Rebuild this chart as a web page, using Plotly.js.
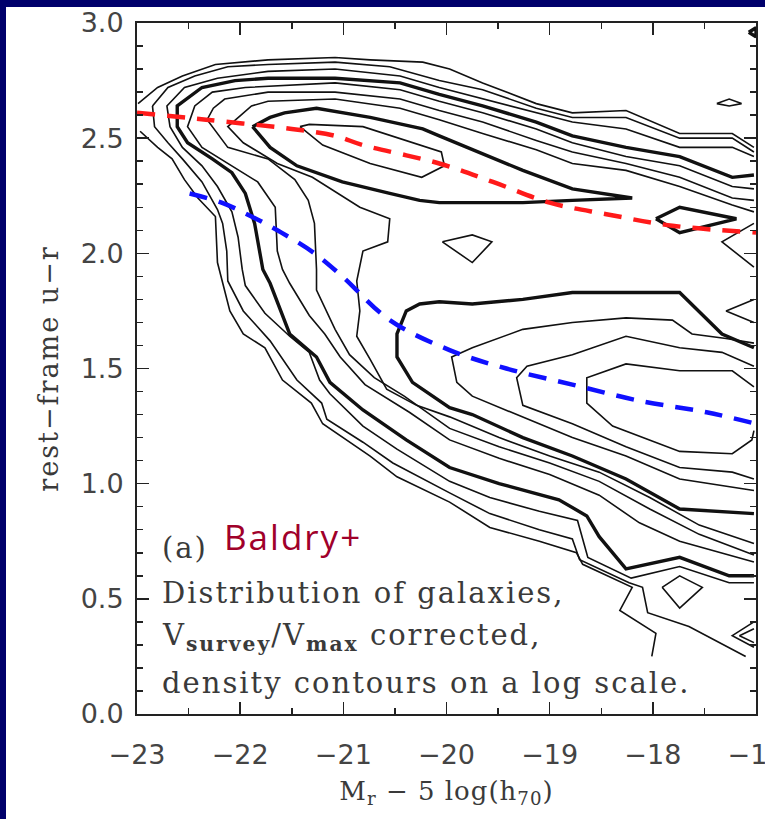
<!DOCTYPE html>
<html>
<head>
<meta charset="utf-8">
<script src="https://cdn.plot.ly/plotly-3.0.1.min.js"></script>
<style>
  html, body { margin: 0; padding: 0; background: #00006b; width: 765px; height: 819px; overflow: hidden; }
  #chart { position: absolute; left: 6px; top: 7px; width: 759px; height: 812px; background: #fff; }
  .annotation-text, .ytitle { letter-spacing: 2px; }
  .xtitle { letter-spacing: 1px; }
</style>
</head>
<body>
<div id="chart"></div>
<script>
// ---- contour levels (outer L1 -> inner): x = M_r - 5log h, y = u-r ----
const L1top_x = [-22.99,-22.80,-22.56,-22.24,-21.73,-21.08,-20.74,-20.23,-19.97,-19.65,-19.13,-18.78,-18.26,-17.74,-17.23,-17.02];
const L1top_y = [2.65,2.72,2.77,2.82,2.84,2.85,2.84,2.83,2.80,2.74,2.65,2.61,2.62,2.52,2.52,2.46];
const L1low_x = [-22.97,-22.80,-22.66,-22.54,-22.41,-22.24,-22.22,-22.10,-21.97,-21.76,-21.59,-21.31,-21.20,-20.74,-20.48,-19.97,-19.58,-19.10,-18.74,-18.68,-18.20,-18.32,-17.97,-18.01];
const L1low_y = [2.53,2.46,2.41,2.32,2.24,2.16,1.96,1.75,1.65,1.59,1.45,1.35,1.26,1.12,1.03,0.92,0.81,0.75,0.70,0.65,0.55,0.45,0.35,0.25];

const L2top_x = [-22.85,-22.70,-22.44,-22.12,-21.73,-21.08,-20.55,-20.07,-19.65,-19.13,-18.78,-18.26,-17.74,-17.23,-17.02];
const L2top_y = [2.64,2.72,2.77,2.81,2.82,2.83,2.81,2.75,2.71,2.63,2.59,2.59,2.50,2.50,2.44];
const L2low_x = [-22.85,-22.83,-22.70,-22.56,-22.37,-22.22,-22.17,-22.13,-22.12,-21.97,-21.71,-21.59,-21.45,-21.21,-21.16,-20.81,-20.52,-19.97,-19.58,-19.10,-18.78,-18.71,-18.23,-18.10,-18.05,-17.65,-17.10];
const L2low_y = [2.64,2.55,2.48,2.41,2.31,2.19,2.13,2.01,1.88,1.75,1.62,1.54,1.45,1.35,1.28,1.18,1.09,0.96,0.87,0.80,0.76,0.67,0.57,0.55,0.44,0.38,0.25];

const L3_x = [-17.02,-17.23,-17.74,-18.26,-18.78,-19.13,-19.65,-20.07,-20.45,-21.08,-21.73,-22.22,-22.54,-22.71,-22.68,-22.56,-22.37,-22.22,-22.08,-22.02,-21.98,-21.95,-21.76,-21.52,-21.33,-21.23,-21.13,-20.81,-20.48,-19.97,-19.58,-19.10,-18.73,-18.63,-18.21,-17.74,-17.26,-17.02];
const L3_y = [2.42,2.46,2.46,2.54,2.57,2.61,2.67,2.72,2.77,2.80,2.79,2.76,2.72,2.64,2.55,2.46,2.38,2.29,2.18,2.07,1.93,1.86,1.74,1.64,1.57,1.45,1.39,1.25,1.15,1.01,0.94,0.88,0.84,0.68,0.59,0.64,0.57,0.57];

const L4_x = [-17.02,-17.23,-17.74,-18.26,-18.78,-19.13,-19.65,-20.07,-20.45,-21.08,-21.73,-22.05,-22.37,-22.61,-22.61,-22.51,-22.27,-22.08,-21.95,-21.86,-21.78,-21.71,-21.52,-21.26,-21.13,-20.81,-20.39,-19.97,-19.49,-18.91,-18.64,-18.52,-18.26,-17.74,-17.26,-17.02];
const L4_y = [2.34,2.33,2.42,2.46,2.51,2.57,2.64,2.69,2.74,2.76,2.76,2.75,2.72,2.64,2.55,2.48,2.41,2.35,2.26,2.13,1.93,1.87,1.65,1.55,1.44,1.32,1.19,1.07,1.00,0.93,0.86,0.77,0.63,0.68,0.60,0.60];

const L5_x = [-17.02,-17.23,-17.74,-18.26,-18.78,-19.13,-19.65,-20.07,-20.45,-21.08,-21.95,-22.27,-22.44,-22.51,-22.37,-22.12,-21.83,-21.66,-21.64,-21.59,-21.52,-21.33,-21.18,-21.03,-20.79,-20.36,-19.97,-19.49,-19.00,-18.52,-18.13,-17.74,-17.26,-17.02];
const L5_y = [2.28,2.29,2.38,2.42,2.48,2.54,2.61,2.66,2.71,2.74,2.72,2.70,2.64,2.55,2.46,2.39,2.31,2.20,2.01,1.93,1.87,1.73,1.65,1.55,1.43,1.31,1.19,1.11,1.04,0.95,0.83,0.75,0.69,0.66];

const L6_x = [-17.02,-17.23,-17.74,-18.26,-18.78,-19.13,-19.65,-20.07,-20.45,-21.08,-21.73,-22.15,-22.26,-22.32,-22.12,-21.73,-21.47,-21.34,-21.28,-21.26,-21.26,-21.08,-20.94,-20.70,-20.41,-19.97,-19.49,-19.00,-18.52,-18.03,-17.55,-17.02];
const L6_y = [2.23,2.24,2.33,2.39,2.44,2.49,2.57,2.62,2.67,2.70,2.70,2.67,2.63,2.58,2.46,2.41,2.32,2.23,2.13,1.93,1.84,1.67,1.56,1.46,1.38,1.24,1.16,1.09,1.01,0.89,0.78,0.69];

const L7_x = [-17.02,-17.23,-17.74,-18.26,-18.78,-19.13,-19.65,-20.07,-20.45,-21.08,-21.73,-21.89,-22.12,-21.97,-21.64,-21.30,-20.84,-20.55,-20.57,-20.81,-20.87,-20.84,-20.87,-20.74,-20.58,-20.29,-19.97,-19.49,-19.00,-18.52,-18.03,-17.55,-17.02];
const L7_y = [2.18,2.21,2.29,2.36,2.39,2.45,2.52,2.58,2.63,2.67,2.66,2.64,2.55,2.48,2.39,2.33,2.20,2.15,2.05,2.01,1.88,1.75,1.64,1.54,1.41,1.34,1.29,1.20,1.12,1.05,0.94,0.82,0.74];

const L8red_x = [-21.88,-21.71,-21.57,-21.26,-20.74,-20.23,-20.07,-19.75,-19.26,-18.78,-18.20,-18.78,-19.26,-20.07,-20.26,-20.55,-21.01,-21.45,-21.71,-21.88];
const L8red_y = [2.55,2.59,2.61,2.63,2.59,2.54,2.51,2.45,2.36,2.28,2.24,2.23,2.22,2.22,2.23,2.26,2.31,2.38,2.46,2.55];
const L8blue_x = [-17.02,-17.33,-17.74,-18.78,-19.26,-19.75,-20.07,-20.26,-20.39,-20.48,-20.48,-20.33,-19.97,-19.75,-19.26,-18.78,-18.26,-17.74,-17.02];
const L8blue_y = [1.59,1.65,1.83,1.83,1.80,1.78,1.79,1.78,1.75,1.65,1.55,1.44,1.33,1.30,1.20,1.12,1.02,0.89,0.87];
const L8isl1_x = [-17.97,-17.74,-17.19,-17.74,-17.97];
const L8isl1_y = [2.15,2.20,2.15,2.09,2.15];

const L9red_x = [-21.42,-21.33,-20.81,-20.39,-20.05,-20.02,-20.24,-20.74,-21.20,-21.42];
const L9red_y = [2.55,2.56,2.55,2.49,2.44,2.38,2.33,2.39,2.47,2.55];
const L9blue_x = [-17.02,-17.29,-17.62,-17.81,-18.26,-18.78,-19.26,-19.75,-19.95,-19.90,-19.75,-19.26,-18.78,-18.26,-17.74,-17.02];
const L9blue_y = [1.61,1.63,1.65,1.71,1.72,1.70,1.67,1.59,1.55,1.44,1.38,1.29,1.20,1.12,1.02,0.97];
const L10_x = [-17.02,-17.33,-17.74,-18.26,-18.78,-19.22,-19.32,-19.26,-18.78,-18.26,-17.74,-17.23,-17.02];
const L10_y = [1.51,1.57,1.59,1.64,1.56,1.51,1.46,1.34,1.26,1.16,1.07,1.05,1.02];
const L11_x = [-17.02,-17.23,-17.74,-18.26,-18.64,-18.64,-18.39,-17.74,-17.23,-17.04,-17.02];
const L11_y = [1.42,1.49,1.49,1.52,1.46,1.35,1.25,1.14,1.13,1.19,1.23];

// small islands / edge pieces
const islValley_x = [-20.04,-19.75,-19.56,-19.75,-20.04];
const islValley_y = [2.05,2.08,2.05,1.96,2.05];
const islTop_x = [-17.38,-17.26,-17.14,-17.26,-17.38];
const islTop_y = [2.65,2.67,2.65,2.64,2.65];
const islCorner_x = [-17.07,-17.0,-17.0,-17.07];
const islCorner_y = [2.96,2.98,2.94,2.96];
const edgeA_x = [-17.02,-17.33,-17.02];
const edgeA_y = [2.13,2.05,1.94];
const edgeB_x = [-17.02,-17.29,-17.02];
const edgeB_y = [1.80,1.75,1.70];
const islLow_x = [-17.91,-17.74,-17.52,-17.74,-17.91];
const islLow_y = [0.55,0.60,0.55,0.46,0.55];
const edgeC_x = [-17.02,-17.23,-17.02];
const edgeC_y = [0.40,0.34,0.29];
const edgeD_x = [-17.02,-17.16,-17.02];
const edgeD_y = [0.37,0.34,0.31];

// dashed sequence fits
const red_x = [-23.0,-22.33,-21.5,-21.08,-20.81,-20.07,-19.55,-19.0,-18.45,-17.81,-17.0];
const red_y = [2.61,2.58,2.54,2.51,2.47,2.39,2.31,2.22,2.17,2.12,2.09];
const blue_x = [-22.49,-22.18,-21.89,-21.60,-21.28,-21.01,-20.55,-19.97,-19.42,-18.78,-18.13,-17.48,-17.0];
const blue_y = [2.26,2.22,2.16,2.09,2.00,1.90,1.71,1.58,1.50,1.43,1.36,1.31,1.26];

const thin = [[L1top_x,L1top_y],[L1low_x,L1low_y],[L2top_x,L2top_y],[L2low_x,L2low_y],[L3_x,L3_y],
  [L5_x,L5_y],[L6_x,L6_y],[L7_x,L7_y],[L9red_x,L9red_y],[L9blue_x,L9blue_y],[L10_x,L10_y],[L11_x,L11_y],
  [islValley_x,islValley_y],[islTop_x,islTop_y],[edgeA_x,edgeA_y],[edgeB_x,edgeB_y],[islLow_x,islLow_y],
  [edgeC_x,edgeC_y],[edgeD_x,edgeD_y]];
const thick = [[L4_x,L4_y],[L8red_x,L8red_y],[L8blue_x,L8blue_y],[L8isl1_x,L8isl1_y],[islCorner_x,islCorner_y]];

const traces = [];
thin.forEach(([x,y]) => traces.push({x, y, type:'scatter', mode:'lines', line:{color:'#111', width:1.6}, hoverinfo:'skip'}));
thick.forEach(([x,y]) => traces.push({x, y, type:'scatter', mode:'lines', line:{color:'#111', width:3.4}, hoverinfo:'skip'}));
traces.push({x:red_x, y:red_y, type:'scatter', mode:'lines', line:{color:'#ff1a1a', width:4.5, dash:'18px,12px', shape:'spline'}, hoverinfo:'skip'});
traces.push({x:blue_x, y:blue_y, type:'scatter', mode:'lines', line:{color:'#1010ff', width:4.5, dash:'18px,12px', shape:'spline'}, hoverinfo:'skip'});

const serif = 'DejaVu Serif';
const txt = '#3a3a3a';
const axisCommon = {
  showgrid:false, zeroline:false, showline:true, linecolor:'#222', linewidth:2, mirror:'allticks',
  ticks:'inside', ticklen:12, tickwidth:1.5, tickcolor:'#222', ticklabeloverflow:'allow',
  tickfont:{family:'DejaVu Sans', size:27, color:'#444'},
};
const layout = {
  width:759, height:812,
  margin:{l:131, r:9, t:16, b:105},
  paper_bgcolor:'#ffffff', plot_bgcolor:'#ffffff',
  showlegend:false, hovermode:false,
  xaxis: Object.assign({}, axisCommon, {
    range:[-23,-17], tickmode:'linear', tick0:-23, dtick:1, ticklabelstandoff:16,
    minor:{dtick:0.5, ticks:'inside', ticklen:6, tickwidth:1.5, tickcolor:'#222'},
    title:{text:'M<sub>r</sub>\u00a0\u2212\u00a05 log(h<sub>70</sub>)', font:{family:serif, size:26, color:txt}, standoff:12}
  }),
  yaxis: Object.assign({}, axisCommon, {
    range:[0,3], tickmode:'linear', tick0:0, dtick:0.5, tickformat:'.1f', ticklabelstandoff:6,
    minor:{dtick:0.1, ticks:'inside', ticklen:6, tickwidth:1.5, tickcolor:'#222'},
    title:{text:'rest\u2212frame u\u2212r', font:{family:serif, size:27, color:txt}, standoff:14}
  }),
  annotations:[
    {x:-22.78, y:0.72, xref:'x', yref:'y', xanchor:'left', yanchor:'middle', showarrow:false, text:'(a)', font:{family:serif, size:29, color:txt}},
    {x:-22.18, y:0.77, xref:'x', yref:'y', xanchor:'left', yanchor:'middle', showarrow:false, text:'Baldry+', font:{family:'Open Sans', size:35, color:'#a0002a'}},
    {x:-22.78, y:0.525, xref:'x', yref:'y', xanchor:'left', yanchor:'middle', showarrow:false, text:'Distribution of galaxies,', font:{family:serif, size:29, color:txt}},
    {x:-22.78, y:0.335, xref:'x', yref:'y', xanchor:'left', yanchor:'middle', showarrow:false, text:'V<sub><b>survey</b></sub>/V<sub><b>max</b></sub> corrected,', font:{family:serif, size:29, color:txt}},
    {x:-22.78, y:0.135, xref:'x', yref:'y', xanchor:'left', yanchor:'middle', showarrow:false, text:'density contours on a log scale.', font:{family:serif, size:29, color:txt}}
  ]
};
Plotly.newPlot('chart', traces, layout, {staticPlot:true, displayModeBar:false});
</script>
</body>
</html>
